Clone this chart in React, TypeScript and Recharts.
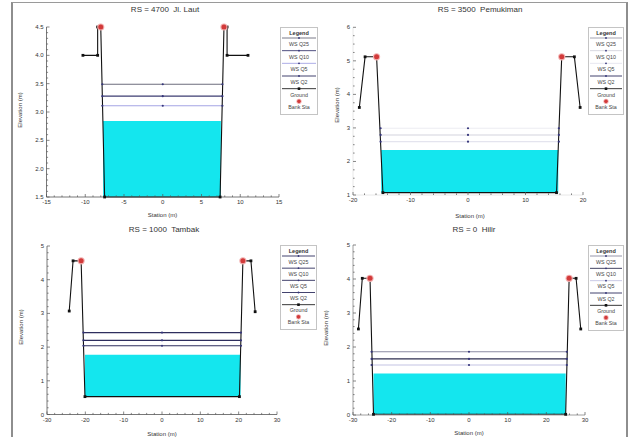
import React from 'react'
import { ComposedChart, Area, Line, XAxis, YAxis } from 'recharts'

type Pt = [number, number]

const profileNames = ['WS Q25', 'WS Q10', 'WS Q5', 'WS Q2']

// RS = 4700 Jl. Laut
const lautGround: Pt[] = [[-10.3, 4.0], [-8.4, 4.0], [-8.4, 4.5], [-8.0, 4.5], [-7.5, 1.5], [7.4, 1.5], [7.9, 4.5], [8.3, 4.5], [8.3, 4.0], [11.0, 4.0]]
const lautBank: Pt[] = [[-8.0, 4.5], [7.9, 4.5]]
const lautWs = [3.49, 3.28, 3.11, 2.84] // Q25, Q10, Q5, Q2
const lautWsEnds = [-7.8, 7.7]
const lautBed = [-7.7, 7.5, 1.5] // fill left, fill right, bed elevation
const lautXTicks = [-15, -10, -5, 0, 5, 10, 15]
const lautYTicks = [1.5, 2.0, 2.5, 3.0, 3.5, 4.0, 4.5]

// RS = 3500 Pemukiman
const pemGround: Pt[] = [[-18.9, 3.61], [-17.9, 5.12], [-15.9, 5.12], [-14.8, 1.07], [15.4, 1.07], [16.3, 5.12], [18.5, 5.12], [19.5, 3.61]]
const pemBank: Pt[] = [[-15.9, 5.12], [16.3, 5.12]]
const pemWs = [2.99, 2.79, 2.59, 2.34]
const pemWsEnds = [-15.2, 15.8]
const pemBed = [-15.1, 15.7, 1.07]
const pemXTicks = [-20, -10, 0, 10, 20]
const pemYTicks = [1, 2, 3, 4, 5, 6]

// RS = 1000 Tambak
const tamGround: Pt[] = [[-24.2, 3.07], [-23.2, 4.56], [-21.1, 4.56], [-20.1, 0.53], [20.2, 0.53], [21.1, 4.56], [23.2, 4.56], [24.3, 3.05]]
const tamBank: Pt[] = [[-21.1, 4.56], [21.1, 4.56]]
const tamWs = [2.43, 2.2, 2.04, 1.77]
const tamWsEnds = [-20.5, 20.6]
const tamBed = [-20.1, 20.5, 0.53]
const tamXTicks = [-30, -20, -10, 0, 10, 20, 30]
const tamYTicks = [0, 1, 2, 3, 4, 5]

// RS = 0 Hilir
const hilGround: Pt[] = [[-28.6, 2.53], [-27.6, 4.02], [-25.6, 4.02], [-24.7, 0.02], [25.0, 0.02], [25.9, 4.02], [27.7, 4.02], [28.9, 2.53]]
const hilBank: Pt[] = [[-25.6, 4.02], [25.9, 4.02]]
const hilWs = [1.86, 1.65, 1.47, 1.22]
const hilWsEnds = [-25.2, 25.3]
const hilBed = [-24.7, 25.0, 0.02]
const hilXTicks = [-30, -20, -10, 0, 10, 20, 30]
const hilYTicks = [0, 1, 2, 3, 4, 5]

const FONT = '"Liberation Sans", Arial, sans-serif'
const CYAN = '#14e6ee'
const Y_W = 30

type Rect = { left: number; top: number; w: number; h: number }

interface PanelCfg {
  title: string
  box: Rect
  plot: { left: number; top: number; right: number; bottom: number }
  ground: Pt[]
  bank: Pt[]
  ws: number[]
  wsEnds: number[]
  bed: number[]
  xTicks: number[]
  yTicks: number[]
  yDigits: number
  xMinor: number
  yMinor: number
  wsColors: string[]
  axisColor: string
  titlePos: [number, number]
  xLabelPos: [number, number]
  yLabelPos: [number, number]
  legend: Rect
}

const panels: PanelCfg[] = [
  {
    title: 'RS = 4700  Jl. Laut',
    box: { left: 12, top: 0, w: 303, h: 220 },
    plot: { left: 46.5, top: 27, right: 279, bottom: 197 },
    ground: lautGround, bank: lautBank, ws: lautWs, wsEnds: lautWsEnds, bed: lautBed,
    xTicks: lautXTicks, yTicks: lautYTicks, yDigits: 1, xMinor: 5, yMinor: 5,
    wsColors: ['#6c6c7c', '#3c3c72', '#a4a4e4'],
    axisColor: '#555',
    titlePos: [165, 9.5], xLabelPos: [162.5, 215], yLabelPos: [20, 110],
    legend: { left: 280, top: 27, w: 38, h: 88 },
  },
  {
    title: 'RS = 3500  Pemukiman',
    box: { left: 315, top: 0, w: 311, h: 220 },
    plot: { left: 353, top: 27.3, right: 583, bottom: 195 },
    ground: pemGround, bank: pemBank, ws: pemWs, wsEnds: pemWsEnds, bed: pemBed,
    xTicks: pemXTicks, yTicks: pemYTicks, yDigits: 0, xMinor: 5, yMinor: 4,
    wsColors: ['#ececf2', '#d4d4de', '#e4e4ee'],
    axisColor: '#e2e2e2',
    titlePos: [480, 9.7], xLabelPos: [470, 216], yLabelPos: [337, 105],
    legend: { left: 588, top: 27, w: 36, h: 88 },
  },
  {
    title: 'RS = 1000  Tambak',
    box: { left: 12, top: 220, w: 303, h: 217 },
    plot: { left: 47, top: 246, right: 277, bottom: 414.5 },
    ground: tamGround, bank: tamBank, ws: tamWs, wsEnds: tamWsEnds, bed: tamBed,
    xTicks: tamXTicks, yTicks: tamYTicks, yDigits: 0, xMinor: 5, yMinor: 5,
    wsColors: ['#2e2e5e', '#2e2e5e', '#2e2e5e'],
    axisColor: '#555',
    titlePos: [164, 230], xLabelPos: [162, 434], yLabelPos: [20.7, 327],
    legend: { left: 280, top: 245, w: 37, h: 85 },
  },
  {
    title: 'RS = 0  Hilir',
    box: { left: 315, top: 220, w: 311, h: 217 },
    plot: { left: 353, top: 245, right: 585, bottom: 415 },
    ground: hilGround, bank: hilBank, ws: hilWs, wsEnds: hilWsEnds, bed: hilBed,
    xTicks: hilXTicks, yTicks: hilYTicks, yDigits: 0, xMinor: 5, yMinor: 5,
    wsColors: ['#8a8aa2', '#2e2e50', '#c4c4e4'],
    axisColor: '#888',
    titlePos: [474, 230], xLabelPos: [469, 433], yLabelPos: [326, 328],
    legend: { left: 588, top: 245, w: 36, h: 86 },
  },
]

// minor tick positions between the labelled ones
function withMinor(majors: number[], n: number) {
  const out: number[] = []
  for (let i = 0; i < majors.length - 1; i++) {
    const a = majors[i], b = majors[i + 1]
    for (let k = 0; k < n; k++) out.push(+(a + ((b - a) * k) / n).toFixed(4))
  }
  out.push(majors[majors.length - 1])
  return out
}

function makeTick(side: 'x' | 'y', majors: number[], digits: number) {
  return (props: any) => {
    const { x, y, payload } = props
    const v = payload.value
    const major = majors.some(m => Math.abs(m - v) < 1e-6)
    const len = major ? 3 : 1.6
    if (side === 'y') {
      return (
        <g>
          <line x1={x} x2={x + len} y1={y} y2={y} stroke="#555" strokeWidth={0.7} />
          {major && (
            <text x={x - 3} y={y + 2} textAnchor="end" fontSize={6} fill="#333" fontFamily={FONT}>
              {v.toFixed(digits)}
            </text>
          )}
        </g>
      )
    }
    return (
      <g>
        <line x1={x} x2={x} y1={y} y2={y - len} stroke="#555" strokeWidth={0.7} />
        {major && (
          <text x={x} y={y + 7} textAnchor="middle" fontSize={6} fill="#333" fontFamily={FONT}>
            {v}
          </text>
        )}
      </g>
    )
  }
}

const GroundDot = (props: any) => {
  const { cx, cy, index } = props
  return <rect key={index} x={cx - 1.4} y={cy - 1.4} width={2.8} height={2.8} fill="#111" />
}

const BankDot = (props: any) => {
  const { cx, cy, index } = props
  return (
    <g key={index}>
      <circle cx={cx} cy={cy} r={3.6} fill="#f2b0b0" />
      <circle cx={cx} cy={cy} r={2.5} fill="#d23a3a" />
    </g>
  )
}

const WsDot = (props: any) => {
  const { cx, cy, index } = props
  return <circle key={index} cx={cx} cy={cy} r={1.1} fill="#34347a" />
}

function LegendBox({ rect, offset, colors }: { rect: Rect; offset: [number, number]; colors: string[] }) {
  const { w, h } = rect
  const step = (h - 12) / 6
  const labels = [...profileNames, 'Ground', 'Bank Sta']
  return (
    <svg style={{ position: 'absolute', left: rect.left - offset[0], top: rect.top - offset[1] }} width={w} height={h}>
      <rect x={0.5} y={0.5} width={w - 1} height={h - 1} fill="#fff" stroke="#c4c4c4" />
      <text x={w / 2} y={8} textAnchor="middle" fontSize={5.5} fontWeight="bold" fill="#333" fontFamily={FONT}>Legend</text>
      {labels.map((name, i) => {
        const sy = 11 + i * step
        const ty = sy + step * 0.62
        let symbol: React.ReactNode = null
        if (i < 4) {
          const c = i < 3 ? colors[i] : '#2e2e5e'
          symbol = (
            <g>
              <line x1={2} x2={w - 2} y1={sy} y2={sy} stroke={c === '#ececf2' ? '#9a9aa8' : c} strokeWidth={0.9} />
              <circle cx={w / 2} cy={sy} r={0.9} fill="#34347a" />
            </g>
          )
        } else if (i === 4) {
          symbol = (
            <g>
              <line x1={2} x2={w - 2} y1={sy} y2={sy} stroke="#222" strokeWidth={0.9} />
              <rect x={w / 2 - 1.3} y={sy - 1.3} width={2.6} height={2.6} fill="#111" />
            </g>
          )
        } else {
          symbol = (
            <g>
              <circle cx={w / 2} cy={sy} r={2.6} fill="#f2b0b0" />
              <circle cx={w / 2} cy={sy} r={1.8} fill="#d23a3a" />
            </g>
          )
        }
        return (
          <g key={name}>
            {symbol}
            <text x={w / 2} y={ty} textAnchor="middle" fontSize={5.3} fill="#444" fontFamily={FONT}>{name}</text>
          </g>
        )
      })}
    </svg>
  )
}

function Panel({ cfg }: { cfg: PanelCfg }) {
  const { box, plot } = cfg
  const xH = box.top + box.h - plot.bottom
  const margin = {
    top: plot.top - box.top,
    left: plot.left - box.left - Y_W,
    right: box.left + box.w - plot.right,
    bottom: 0,
  }
  const groundData = cfg.ground.map(([x, y]) => ({ x, y }))
  const bankData = cfg.bank.map(([x, y]) => ({ x, y }))
  const fillData = [
    { x: cfg.bed[0], y: cfg.ws[3] },
    { x: cfg.bed[1], y: cfg.ws[3] },
  ]
  const wsLines = cfg.ws.slice(0, 3).map(level => [
    { x: cfg.wsEnds[0], y: level },
    { x: 0, y: level },
    { x: cfg.wsEnds[1], y: level },
  ])
  const xDomain = [cfg.xTicks[0], cfg.xTicks[cfg.xTicks.length - 1]]
  const yDomain = [cfg.yTicks[0], cfg.yTicks[cfg.yTicks.length - 1]]
  const off: [number, number] = [box.left, box.top]
  const txt: React.CSSProperties = { position: 'absolute', fontFamily: FONT, color: '#333', whiteSpace: 'pre', lineHeight: 1 }

  return (
    <div style={{ position: 'absolute', left: box.left, top: box.top, width: box.w, height: box.h }}>
      <ComposedChart width={box.w} height={box.h} margin={margin}>
        <XAxis
          type="number"
          dataKey="x"
          domain={xDomain}
          ticks={withMinor(cfg.xTicks, cfg.xMinor)}
          interval={0}
          height={xH}
          tickSize={0}
          tickMargin={0}
          tickLine={false}
          axisLine={{ stroke: cfg.axisColor, strokeWidth: 0.8 }}
          tick={makeTick('x', cfg.xTicks, 0)}
        />
        <YAxis
          type="number"
          dataKey="y"
          domain={yDomain}
          ticks={withMinor(cfg.yTicks, cfg.yMinor)}
          interval={0}
          width={Y_W}
          tickSize={0}
          tickMargin={0}
          tickLine={false}
          axisLine={{ stroke: cfg.axisColor, strokeWidth: 0.8 }}
          tick={makeTick('y', cfg.yTicks, cfg.yDigits)}
        />
        <Area
          data={fillData}
          dataKey="y"
          type="linear"
          baseValue={cfg.bed[2]}
          fill={CYAN}
          fillOpacity={1}
          stroke="none"
          isAnimationActive={false}
        />
        {wsLines.map((d, i) => (
          <Line
            key={i}
            data={d}
            dataKey="y"
            type="linear"
            stroke={cfg.wsColors[i]}
            strokeWidth={1.1}
            dot={WsDot}
            activeDot={false}
            isAnimationActive={false}
          />
        ))}
        <Line
          data={groundData}
          dataKey="y"
          type="linear"
          stroke="#111"
          strokeWidth={1.1}
          dot={GroundDot}
          activeDot={false}
          isAnimationActive={false}
        />
        <Line
          data={bankData}
          dataKey="y"
          type="linear"
          stroke="none"
          dot={BankDot}
          activeDot={false}
          isAnimationActive={false}
        />
      </ComposedChart>

      <div style={{ ...txt, fontSize: 8, left: cfg.titlePos[0] - box.left, top: cfg.titlePos[1] - box.top, transform: 'translate(-50%, -50%)' }}>
        {cfg.title}
      </div>
      <div style={{ ...txt, fontSize: 6, left: cfg.xLabelPos[0] - box.left, top: cfg.xLabelPos[1] - box.top, transform: 'translate(-50%, -50%)' }}>
        Station (m)
      </div>
      <div style={{ ...txt, fontSize: 6, left: cfg.yLabelPos[0] - box.left, top: cfg.yLabelPos[1] - box.top, transform: 'translate(-50%, -50%) rotate(-90deg)' }}>
        Elevation (m)
      </div>
      <LegendBox rect={cfg.legend} offset={off} colors={cfg.wsColors} />
    </div>
  )
}

export default function App() {
  return (
    <div style={{ position: 'absolute', left: 0, top: 0, width: 630, height: 437, background: '#fff', overflow: 'hidden' }}>
      <div
        style={{
          position: 'absolute',
          left: 11,
          top: 2,
          width: 613,
          height: 450,
          borderLeft: '2px solid #8e8e8e',
          borderTop: '1.5px solid #9a9a9a',
          borderRight: '2px solid #8e8e8e',
        }}
      />
      {panels.map((p, i) => (
        <Panel key={i} cfg={p} />
      ))}
    </div>
  )
}
